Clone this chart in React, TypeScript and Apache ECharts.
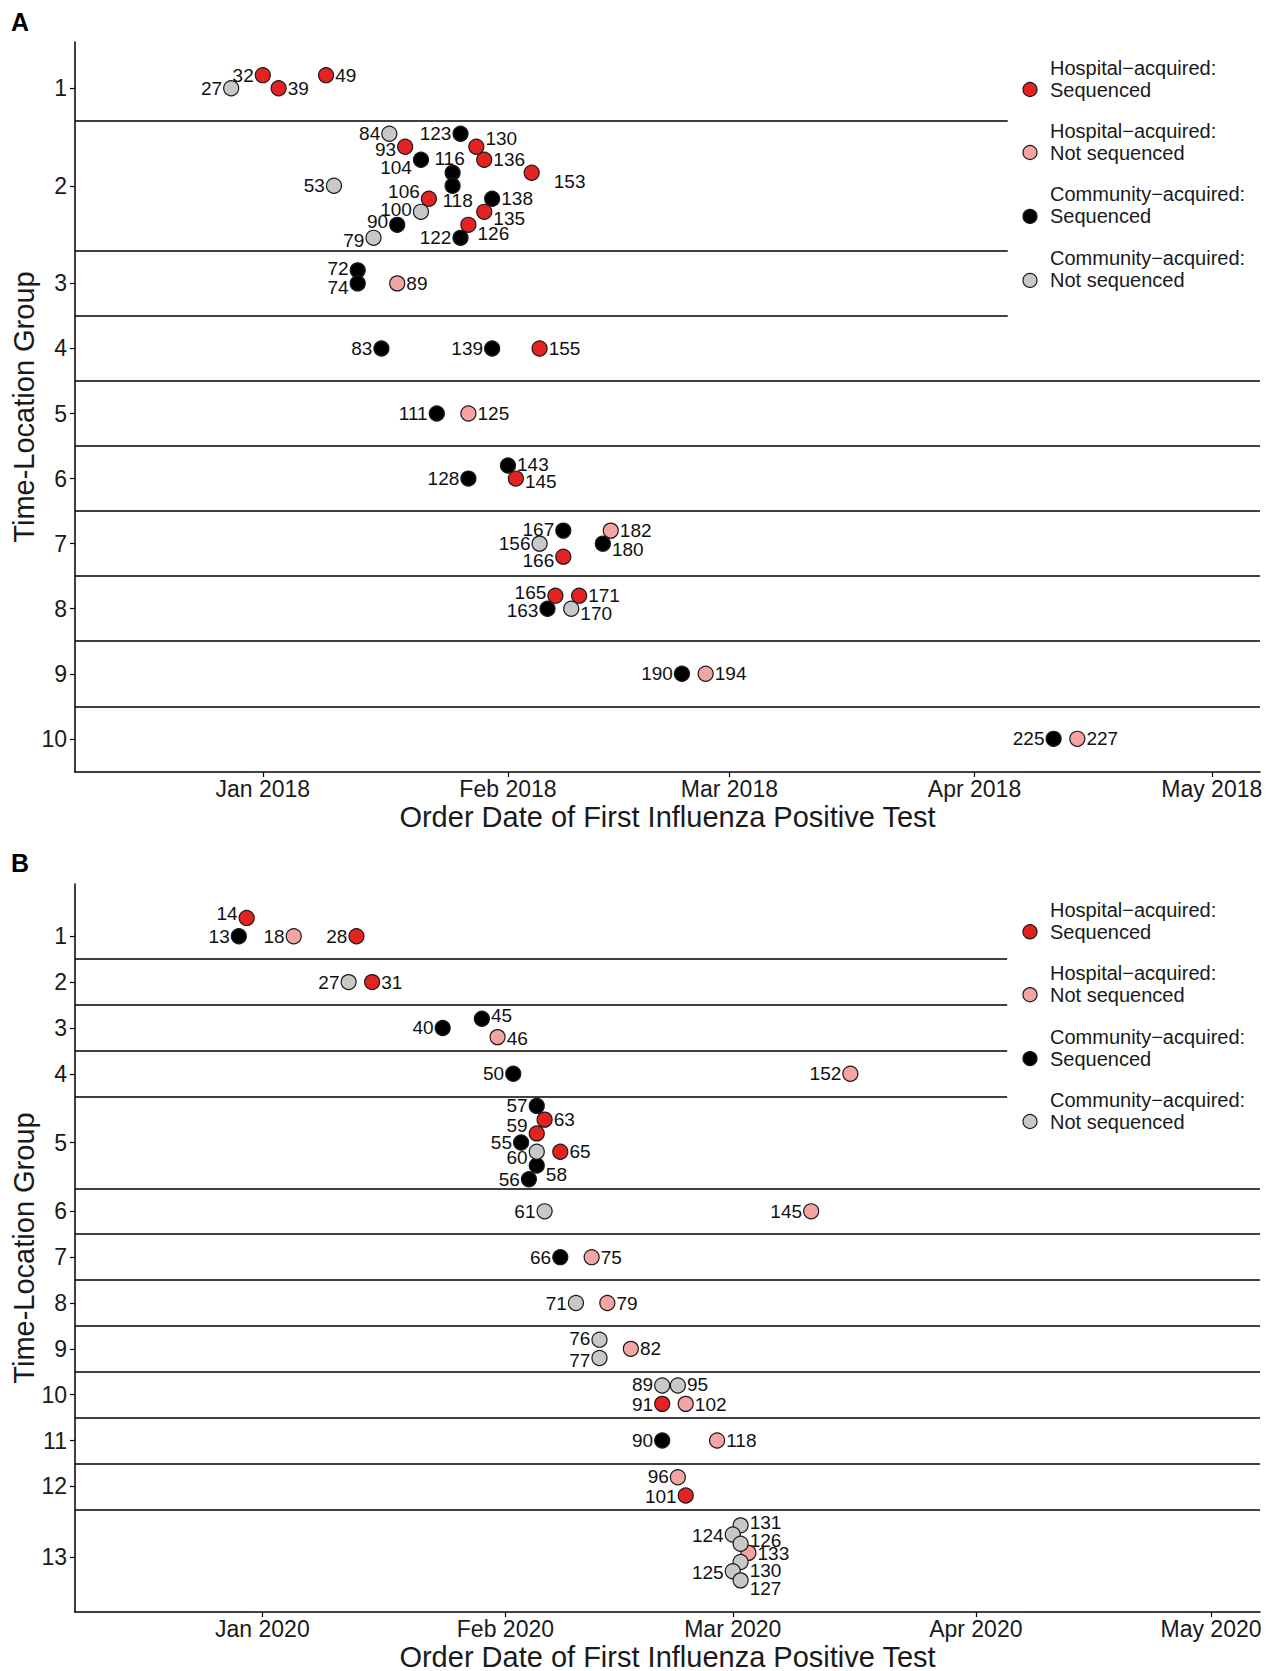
import React, { useEffect, useRef } from 'react';
import * as echarts from 'echarts';

// ---------- shared ----------
const FONT = '"Liberation Sans", Arial, Helvetica, sans-serif';
const INK = '#1a1a1a';
const TYPE_KEYS = ['HS', 'HN', 'CS', 'CN'];
const TYPE_LINE1 = ['Hospital−acquired:', 'Hospital−acquired:', 'Community−acquired:', 'Community−acquired:'];
const TYPE_LINE2 = ['Sequenced', 'Not sequenced', 'Sequenced', 'Not sequenced'];
const TYPE_COLORS = ['#e32222', '#f5a4a4', '#000000', '#c8c8c8'];
const MONTHS = ['Jan', 'Feb', 'Mar', 'Apr', 'May', 'Jun', 'Jul', 'Aug', 'Sep', 'Oct', 'Nov', 'Dec'];
const X_TITLE = 'Order Date of First Influenza Positive Test';
const Y_TITLE = 'Time-Location Group';

// ---------- Panel A (2018) ----------
const A_ID = [27, 32, 39, 49,
  84, 123, 93, 130, 104, 136, 116, 153, 53, 118, 106, 138, 100, 135, 90, 126, 79, 122,
  72, 74, 89,
  83, 139, 155,
  111, 125,
  143, 145, 128,
  167, 156, 166, 182, 180,
  165, 171, 163, 170,
  190, 194,
  225, 227];
const A_DATE = ['2017-12-28', '2018-01-01', '2018-01-03', '2018-01-09',
  '2018-01-17', '2018-01-26', '2018-01-19', '2018-01-28', '2018-01-21', '2018-01-29', '2018-01-25', '2018-02-04', '2018-01-10', '2018-01-25', '2018-01-22', '2018-01-30', '2018-01-21', '2018-01-29', '2018-01-18', '2018-01-27', '2018-01-15', '2018-01-26',
  '2018-01-13', '2018-01-13', '2018-01-18',
  '2018-01-16', '2018-01-30', '2018-02-05',
  '2018-01-23', '2018-01-27',
  '2018-02-01', '2018-02-02', '2018-01-27',
  '2018-02-08', '2018-02-05', '2018-02-08', '2018-02-14', '2018-02-13',
  '2018-02-07', '2018-02-10', '2018-02-06', '2018-02-09',
  '2018-02-23', '2018-02-26',
  '2018-04-11', '2018-04-14'];
const A_GROUP = [1, 1, 1, 1,
  2, 2, 2, 2, 2, 2, 2, 2, 2, 2, 2, 2, 2, 2, 2, 2, 2, 2,
  3, 3, 3,
  4, 4, 4,
  5, 5,
  6, 6, 6,
  7, 7, 7, 7, 7,
  8, 8, 8, 8,
  9, 9,
  10, 10];
const A_STACK = [0, -0.2, 0, -0.2,
  -0.8, -0.8, -0.6, -0.6, -0.4, -0.4, -0.2, -0.2, 0, 0, 0.2, 0.2, 0.4, 0.4, 0.6, 0.6, 0.8, 0.8,
  -0.2, 0, 0,
  0, 0, 0,
  0, 0,
  -0.2, 0, 0,
  -0.2, 0, 0.2, -0.2, 0,
  -0.2, -0.2, 0, 0,
  0, 0,
  0, 0];
const A_TYPE = ['CN', 'HS', 'HS', 'HS',
  'CN', 'CS', 'HS', 'HS', 'CS', 'HS', 'CS', 'HS', 'CN', 'CS', 'HS', 'CS', 'CN', 'HS', 'CS', 'HS', 'CN', 'CS',
  'CS', 'CS', 'HN',
  'CS', 'CS', 'HS',
  'CS', 'HN',
  'CS', 'HS', 'CS',
  'CS', 'CN', 'HS', 'HN', 'CS',
  'HS', 'HS', 'CS', 'CN',
  'CS', 'HN',
  'CS', 'HN'];
const A_GROUP_POS = [0, 1.5, 3, 4, 5, 6, 7, 8, 9, 10];
const A_SEPARATORS = [0.5, 2.5, 3.5, 4.5, 5.5, 6.5, 7.5, 8.5, 9.5];
const A_MONTH_TICKS = ['2018-01-01', '2018-02-01', '2018-03-01', '2018-04-01', '2018-05-01'];

// ---------- Panel B (2020) ----------
const B_ID = [14, 13, 18, 28,
  27, 31,
  40, 45, 46,
  50, 152,
  57, 63, 59, 55, 60, 65, 58, 56,
  61, 145,
  66, 75,
  71, 79,
  76, 77, 82,
  89, 95, 91, 102,
  90, 118,
  96, 101,
  131, 124, 126, 133, 130, 125, 127];
const B_DATE = ['2019-12-30', '2019-12-29', '2020-01-05', '2020-01-13',
  '2020-01-12', '2020-01-15',
  '2020-01-24', '2020-01-29', '2020-01-31',
  '2020-02-02', '2020-03-16',
  '2020-02-05', '2020-02-06', '2020-02-05', '2020-02-03', '2020-02-05', '2020-02-08', '2020-02-05', '2020-02-04',
  '2020-02-06', '2020-03-11',
  '2020-02-08', '2020-02-12',
  '2020-02-10', '2020-02-14',
  '2020-02-13', '2020-02-13', '2020-02-17',
  '2020-02-21', '2020-02-23', '2020-02-21', '2020-02-24',
  '2020-02-21', '2020-02-28',
  '2020-02-23', '2020-02-24',
  '2020-03-02', '2020-03-01', '2020-03-02', '2020-03-03', '2020-03-02', '2020-03-01', '2020-03-02'];
const B_GROUP = [1, 1, 1, 1,
  2, 2,
  3, 3, 3,
  4, 4,
  5, 5, 5, 5, 5, 5, 5, 5,
  6, 6,
  7, 7,
  8, 8,
  9, 9, 9,
  10, 10, 10, 10,
  11, 11,
  12, 12,
  13, 13, 13, 13, 13, 13, 13];
const B_STACK = [-0.4, 0, 0, 0,
  0, 0,
  0, -0.2, 0.2,
  0, 0,
  -0.8, -0.5, -0.2, 0, 0.2, 0.2, 0.5, 0.8,
  0, 0,
  0, 0,
  0, 0,
  -0.2, 0.2, 0,
  -0.2, -0.2, 0.2, 0.2,
  0, 0,
  -0.2, 0.2,
  -0.7, -0.5, -0.3, -0.1, 0.1, 0.3, 0.5];
const B_TYPE = ['HS', 'CS', 'HN', 'HS',
  'CN', 'HS',
  'CS', 'CS', 'HN',
  'CS', 'HN',
  'CS', 'HS', 'HS', 'CS', 'CN', 'HS', 'CS', 'CS',
  'CN', 'HN',
  'CS', 'HN',
  'CN', 'HN',
  'CN', 'CN', 'HN',
  'CN', 'CN', 'HS', 'HN',
  'CS', 'HN',
  'HN', 'HS',
  'CN', 'CN', 'CN', 'HN', 'CN', 'CN', 'CN'];
const B_GROUP_POS = [0, 1, 2, 3, 4.5, 6, 7, 8, 9, 10, 11, 12, 13.55];
const B_SEPARATORS = [0.5, 1.5, 2.5, 3.5, 5.5, 6.5, 7.5, 8.5, 9.5, 10.5, 11.5, 12.5];
const B_MONTH_TICKS = ['2020-01-01', '2020-02-01', '2020-03-01', '2020-04-01', '2020-05-01'];

// ---------- label placement (layout only): side, dx, dy ----------
type LP = [string, number, number];
const A_LABELS: Record<number, LP> = {
  27: ['L', 0, 0], 32: ['L', 0, 0], 39: ['R', 0, 0], 49: ['R', 0, 0],
  84: ['L', 0, 0], 123: ['L', 0, 0], 93: ['L', 0, 3], 130: ['R', 0, -8], 104: ['L', 0, 8], 136: ['R', 0, 0],
  116: ['T', -3, 4], 153: ['R', 13, 9], 53: ['L', 0, 0], 118: ['B', 5, -4], 106: ['L', 0, -7], 138: ['R', 0, 0],
  100: ['L', 0, -2], 135: ['R', 0, 7], 90: ['L', 0, -3], 126: ['R', 0, 9], 79: ['L', 0, 3], 122: ['L', 0, 0],
  72: ['L', 0, -2], 74: ['L', 0, 4], 89: ['R', 0, 0],
  83: ['L', 0, 0], 139: ['L', 0, 0], 155: ['R', 0, 0],
  111: ['L', 0, 0], 125: ['R', 0, 0],
  143: ['R', 0, -1], 145: ['R', 0, 3], 128: ['L', 0, 0],
  167: ['L', 0, -1], 156: ['L', 0, 0], 166: ['L', 0, 4], 182: ['R', 0, 0], 180: ['R', 0, 6],
  165: ['L', 0, -3], 171: ['R', 0, 0], 163: ['L', 0, 2], 170: ['R', 0, 5],
  190: ['L', 0, 0], 194: ['R', 0, 0], 225: ['L', 0, 0], 227: ['R', 0, 0],
};
const B_LABELS: Record<number, LP> = {
  14: ['L', 0, -4], 13: ['L', 0, 0], 18: ['L', 0, 0], 28: ['L', 0, 0],
  27: ['L', 0, 0], 31: ['R', 0, 0],
  40: ['L', 0, 0], 45: ['R', 0, -3], 46: ['R', 0, 1],
  50: ['L', 0, 0], 152: ['L', 0, 0],
  57: ['L', 0, 0], 63: ['R', 0, 0], 59: ['L', 0, -8], 55: ['L', 0, 0], 60: ['L', 0, 6], 65: ['R', 0, 0], 58: ['R', 0, 9], 56: ['L', 0, 0],
  61: ['L', 0, 0], 145: ['L', 0, 0],
  66: ['L', 0, 0], 75: ['R', 0, 0],
  71: ['L', 0, 0], 79: ['R', 0, 0],
  76: ['L', 0, -1], 77: ['L', 0, 2], 82: ['R', 0, 0],
  89: ['L', 0, -1], 95: ['R', 0, -1], 91: ['L', 0, 1], 102: ['R', 0, 1],
  90: ['L', 0, 0], 118: ['R', 0, 0],
  96: ['L', 0, -1], 101: ['L', 0, 1],
  131: ['R', 0, -3], 124: ['L', 0, 1], 126: ['R', 0, -3], 133: ['R', 0, 1], 130: ['R', 0, 8], 125: ['L', 0, 1], 127: ['R', 0, 8],
};

// ---------- layout ----------
const LAYOUT = [
  { top: 42, height: 730, yRange: [-0.71, 10.51], origin: '2018-01-01', xDays: [-23.75, 126.1], shortEndDay: 94.2, nShort: 3,
    legendY: [89.5, 152.5, 216.4, 280.4], letterY: 9, xNameGap: 30 },
  { top: 884, height: 728, yRange: [-1.14, 14.74], origin: '2020-01-01', xDays: [-23.9, 127.25], shortEndDay: 95, nShort: 4,
    legendY: [931.8, 994.7, 1058.6, 1121.5], letterY: 850, xNameGap: 30 },
];

const PANELS = [
  { letter: 'A', ids: A_ID, dates: A_DATE, groups: A_GROUP, stacks: A_STACK, types: A_TYPE, groupPos: A_GROUP_POS, seps: A_SEPARATORS, ticks: A_MONTH_TICKS, labels: A_LABELS },
  { letter: 'B', ids: B_ID, dates: B_DATE, groups: B_GROUP, stacks: B_STACK, types: B_TYPE, groupPos: B_GROUP_POS, seps: B_SEPARATORS, ticks: B_MONTH_TICKS, labels: B_LABELS },
];

const DAY = 86400000;
function ts(s: string) {
  const [y, m, d] = s.split('-').map(Number);
  return new Date(y, m - 1, d).getTime();
}
const SIDE: Record<string, string> = { L: 'left', R: 'right', T: 'top', B: 'bottom' };

function buildOption() {
  const grid: any[] = [];
  const xAxis: any[] = [];
  const yAxis: any[] = [];
  const series: any[] = [];
  const graphic: any[] = [];

  PANELS.forEach((p, i) => {
    const L = LAYOUT[i];
    const base = ts(L.origin);
    const xmin = base + L.xDays[0] * DAY;
    const xmax = base + L.xDays[1] * DAY;
    const shortEnd = base + L.shortEndDay * DAY;
    const tickVals = p.ticks.map(ts);

    grid.push({ left: 75, top: L.top, width: 1185, height: L.height, containLabel: false, outerBoundsMode: 'none' });
    xAxis.push({
      gridIndex: i, type: 'value', min: xmin, max: xmax, scale: true,
      axisLine: { show: true, onZero: false, lineStyle: { color: '#000', width: 1.5 } },
      axisTick: { show: true, length: 5, customValues: tickVals, lineStyle: { color: '#000', width: 1.2 } },
      axisLabel: {
        customValues: tickVals, fontSize: 23, color: INK, fontFamily: FONT, margin: 5,
        formatter: (v: number) => { const d = new Date(v); return MONTHS[d.getMonth()] + ' ' + d.getFullYear(); },
      },
      splitLine: { show: false }, minorTick: { show: false },
      name: X_TITLE, nameLocation: 'middle', nameGap: L.xNameGap, nameMoveOverlap: false,
      nameTextStyle: { fontSize: 29, color: INK, fontFamily: FONT },
    });
    const gp = p.groupPos;
    yAxis.push({
      gridIndex: i, type: 'value', inverse: true, min: L.yRange[0], max: L.yRange[1],
      axisLine: { show: true, onZero: false, lineStyle: { color: '#000', width: 1.5 } },
      axisTick: { show: true, length: 5, customValues: gp, lineStyle: { color: '#000', width: 1.2 } },
      axisLabel: {
        customValues: gp, fontSize: 23, color: INK, fontFamily: FONT, margin: 8,
        formatter: (v: number) => { const k = gp.findIndex((q) => Math.abs(q - v) < 1e-6); return k >= 0 ? String(k + 1) : ''; },
      },
      splitLine: { show: false },
      name: Y_TITLE, nameLocation: 'middle', nameGap: 37, nameMoveOverlap: false,
      nameTextStyle: { fontSize: 29, color: INK, fontFamily: FONT },
    });

    const markData: any[] = p.seps.map((s, k) =>
      k < L.nShort
        ? [{ coord: [xmin, s] }, { coord: [shortEnd, s] }]
        : { yAxis: s });

    TYPE_KEYS.forEach((t, ti) => {
      const data: any[] = [];
      p.ids.forEach((id, j) => {
        if (p.types[j] !== t) return;
        const lp = p.labels[id] || ['R', 0, 0];
        data.push({
          name: String(id),
          value: [ts(p.dates[j]), gp[p.groups[j] - 1] + p.stacks[j]],
          label: { position: SIDE[lp[0]], offset: [lp[1], lp[2]] },
        });
      });
      const s: any = {
        type: 'scatter', name: TYPE_LINE1[ti] + ' ' + TYPE_LINE2[ti],
        xAxisIndex: i, yAxisIndex: i, data, symbol: 'circle', symbolSize: 15, z: 3,
        itemStyle: { color: TYPE_COLORS[ti], borderColor: '#1a1a1a', borderWidth: 1.2, opacity: 1 },
        label: { show: true, formatter: '{b}', distance: 1, fontSize: 19, color: '#111', fontFamily: FONT },
        emphasis: { disabled: true },
      };
      if (ti === 0) {
        s.markLine = {
          silent: true, symbol: ['none', 'none'], animation: false,
          lineStyle: { color: '#000', width: 1.5, type: 'solid' },
          label: { show: false }, emphasis: { disabled: true },
          data: markData,
        };
      }
      series.push(s);
    });

    graphic.push({
      type: 'text', x: 11, y: L.letterY,
      style: { text: p.letter, fill: '#000', font: 'bold 25px ' + FONT, textAlign: 'left', textVerticalAlign: 'top', verticalAlign: 'top' },
    });
    TYPE_KEYS.forEach((t, ti) => {
      const cy = L.legendY[ti];
      graphic.push({
        type: 'circle', shape: { cx: 1030, cy, r: 7 },
        style: { fill: TYPE_COLORS[ti], stroke: '#1a1a1a', lineWidth: 1.2 },
      });
      graphic.push({
        type: 'text', x: 1050, y: cy - 22,
        style: { text: TYPE_LINE1[ti], fill: INK, font: '20px ' + FONT, textAlign: 'left', textVerticalAlign: 'middle', verticalAlign: 'middle' },
      });
      graphic.push({
        type: 'text', x: 1050, y: cy,
        style: { text: TYPE_LINE2[ti], fill: INK, font: '20px ' + FONT, textAlign: 'left', textVerticalAlign: 'middle', verticalAlign: 'middle' },
      });
    });
  });

  return {
    animation: false,
    backgroundColor: '#ffffff',
    textStyle: { fontFamily: FONT },
    grid, xAxis, yAxis, series, graphic,
  };
}

export default function App() {
  const ref = useRef<HTMLDivElement>(null);
  useEffect(() => {
    if (!ref.current) return;
    const chart = echarts.init(ref.current, null, { renderer: 'svg' });
    chart.setOption(buildOption() as any);
    return () => chart.dispose();
  }, []);
  return (
    <div
      ref={ref}
      style={{ position: 'absolute', left: 0, top: 0, width: 1275, height: 1671, background: '#fff' }}
    />
  );
}
